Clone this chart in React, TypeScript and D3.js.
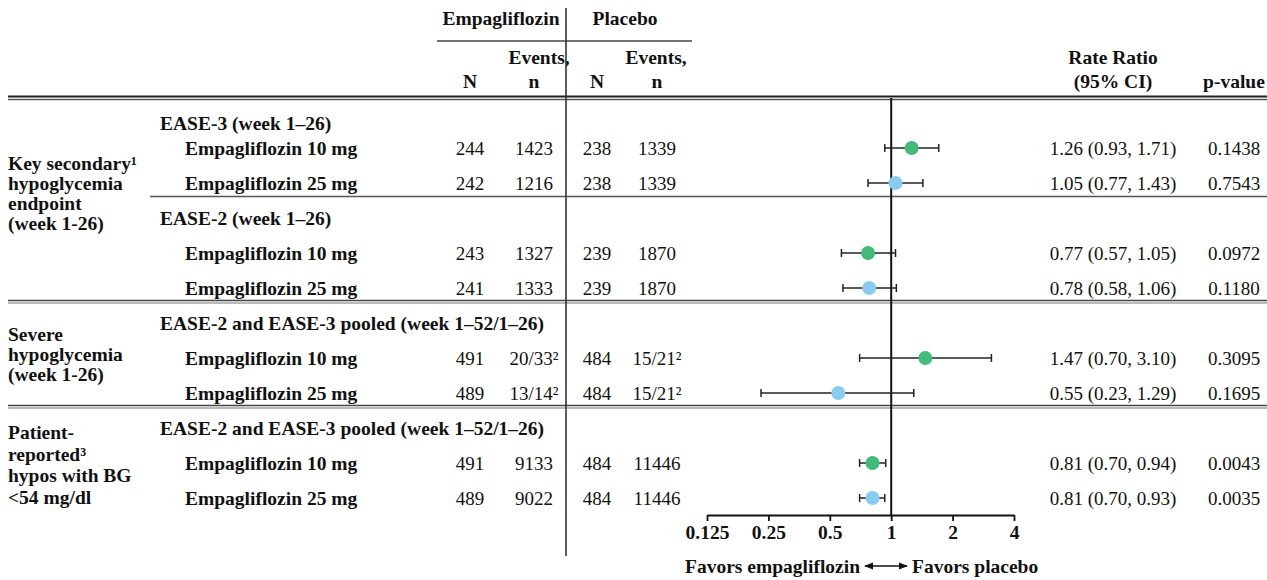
import React, { useEffect, useRef } from "react";
import * as d3 from "d3";

// ---- data ----
const groupLabels: string[][] = [
  ["Key secondary¹", "hypoglycemia", "endpoint", "(week 1-26)"],
  ["Severe", "hypoglycemia", "(week 1-26)"],
  ["Patient-", "reported³", "hypos with BG", "<54 mg/dl"],
];
const subheaders = [
  "EASE-3 (week 1–26)",
  "EASE-2 (week 1–26)",
  "EASE-2 and EASE-3 pooled (week 1–52/1–26)",
  "EASE-2 and EASE-3 pooled (week 1–52/1–26)",
];
const rowLabels = [
  "Empagliflozin 10 mg",
  "Empagliflozin 25 mg",
  "Empagliflozin 10 mg",
  "Empagliflozin 25 mg",
  "Empagliflozin 10 mg",
  "Empagliflozin 25 mg",
  "Empagliflozin 10 mg",
  "Empagliflozin 25 mg",
];
const empN = [244, 242, 243, 241, 491, 489, 491, 489];
const empEvents = ["1423", "1216", "1327", "1333", "20/33²", "13/14²", "9133", "9022"];
const plaN = [238, 238, 239, 239, 484, 484, 484, 484];
const plaEvents = ["1339", "1339", "1870", "1870", "15/21²", "15/21²", "11446", "11446"];
const rateRatio = [1.26, 1.05, 0.77, 0.78, 1.47, 0.55, 0.81, 0.81];
const ciLow = [0.93, 0.77, 0.57, 0.58, 0.7, 0.23, 0.7, 0.7];
const ciHigh = [1.71, 1.43, 1.05, 1.06, 3.1, 1.29, 0.94, 0.93];
const pValues = ["0.1438", "0.7543", "0.0972", "0.1180", "0.3095", "0.1695", "0.0043", "0.0035"];
const dose = ["10", "25", "10", "25", "10", "25", "10", "25"];
const tickValues = [0.125, 0.25, 0.5, 1, 2, 4];
const tickLabels = ["0.125", "0.25", "0.5", "1", "2", "4"];

// ---- layout ----
const W = 1267;
const H = 580;
const FONT = "'Liberation Serif', 'Times New Roman', serif";
const FSB = 19.5; // bold labels
const FSN = 19; // regular numbers
const doseColor: Record<string, string> = { "10": "#43b97a", "25": "#88ccf2" };

// slot sequence: each subheader followed by its rows
const subSlots = [0, 3, 6, 9];
const rowSlots = [1, 2, 4, 5, 7, 8, 10, 11];
const groupCenterSlot = [2.3, 6.9, 10.05];
const groupLineGap = [20, 20, 21.5];

const slotY = d3.scaleLinear().domain([0, 1, 11]).range([123, 148, 498]);
const x = d3.scaleLog().base(2).domain([0.125, 4]).range([707, 1014]);
const axisY = 515;
const captionY = 566;

const colX = {
  group: 8,
  sub: 160,
  row: 185,
  empN: 470,
  empEv: 534,
  plaN: 597,
  plaEv: 657,
  rr: 1113,
  p: 1234,
};
const dividerX = 566;

const fmtRR = (i: number) =>
  `${rateRatio[i].toFixed(2)} (${ciLow[i].toFixed(2)}, ${ciHigh[i].toFixed(2)})`;

function Axis() {
  const ref = useRef<SVGGElement>(null);
  useEffect(() => {
    if (!ref.current) return;
    const g = d3.select(ref.current);
    g.selectAll("*").remove();
    g.call(
      d3
        .axisBottom(x)
        .tickValues(tickValues)
        .tickFormat((d, i) => tickLabels[i])
        .tickSize(6)
        .tickSizeOuter(0)
    );
    g.select(".domain").attr("stroke", "#111").attr("stroke-width", 1.8);
    g.selectAll(".tick line").attr("stroke", "#111").attr("stroke-width", 1.8);
    g.selectAll(".tick text")
      .attr("fill", "#111")
      .attr("y", 10)
      .style("font-family", FONT)
      .style("font-size", `${FSB}px`)
      .style("font-weight", "bold");
  }, []);
  return <g ref={ref} transform={`translate(0,${axisY})`} />;
}

export default function App() {
  const sepY = (slot: number) => slotY(slot) - 4;
  const bold = {
    fontFamily: FONT,
    fontSize: FSB,
    fontWeight: "bold",
    fill: "#111",
  } as const;
  const plain = {
    fontFamily: FONT,
    fontSize: FSN,
    fill: "#111",
  } as const;

  return (
    <svg
      width={W}
      height={H}
      style={{ position: "absolute", left: 0, top: 0, background: "#fff" }}
    >
      {/* column headers */}
      <g style={bold}>
        <text x={501} y={18} dy="0.35em" textAnchor="middle">Empagliflozin</text>
        <text x={625} y={18} dy="0.35em" textAnchor="middle">Placebo</text>
        <text x={539} y={57} dy="0.35em" textAnchor="middle">Events,</text>
        <text x={656} y={57} dy="0.35em" textAnchor="middle">Events,</text>
        <text x={colX.empN} y={81} dy="0.35em" textAnchor="middle">N</text>
        <text x={colX.empEv} y={81} dy="0.35em" textAnchor="middle">n</text>
        <text x={colX.plaN} y={81} dy="0.35em" textAnchor="middle">N</text>
        <text x={colX.plaEv} y={81} dy="0.35em" textAnchor="middle">n</text>
        <text x={colX.rr} y={57} dy="0.35em" textAnchor="middle">Rate Ratio</text>
        <text x={colX.rr} y={81} dy="0.35em" textAnchor="middle">(95% CI)</text>
        <text x={colX.p} y={81} dy="0.35em" textAnchor="middle">p-value</text>
      </g>
      <line x1={437} x2={692} y1={41} y2={41} stroke="#444" strokeWidth={1.5} />

      {/* header rule */}
      <line x1={8} x2={W} y1={96.5} y2={96.5} stroke="#222" strokeWidth={2} />
      <line x1={8} x2={W} y1={99.5} y2={99.5} stroke="#555" strokeWidth={1.5} />

      {/* group separators */}
      <line x1={150} x2={W} y1={sepY(2.5)} y2={sepY(2.5)} stroke="#555" strokeWidth={1.6} />
      {[5.5, 8.5].map((s) => (
        <g key={s}>
          <line x1={8} x2={W} y1={sepY(s) - 1} y2={sepY(s) - 1} stroke="#444" strokeWidth={1.6} />
          <line x1={8} x2={W} y1={sepY(s) + 1.5} y2={sepY(s) + 1.5} stroke="#777" strokeWidth={1.2} />
        </g>
      ))}

      {/* vertical divider between arms */}
      <line x1={dividerX} x2={dividerX} y1={8} y2={556} stroke="#333" strokeWidth={1.6} />

      {/* group labels */}
      <g style={bold}>
        {groupLabels.map((lines, gi) => {
          const cy = slotY(groupCenterSlot[gi]);
          const gap = groupLineGap[gi];
          const top = cy - ((lines.length - 1) * gap) / 2;
          return lines.map((l, li) => (
            <text key={`${gi}-${li}`} x={colX.group} y={top + li * gap} dy="0.35em">
              {l}
            </text>
          ));
        })}
      </g>

      {/* subheaders */}
      <g style={bold}>
        {subheaders.map((s, i) => (
          <text key={i} x={colX.sub} y={slotY(subSlots[i])} dy="0.35em">
            {s}
          </text>
        ))}
      </g>

      {/* rows */}
      {rowLabels.map((label, i) => {
        const y = slotY(rowSlots[i]);
        return (
          <g key={i}>
            <text x={colX.row} y={y} dy="0.35em" style={bold}>
              {label}
            </text>
            <g style={plain} textAnchor="middle">
              <text x={colX.empN} y={y} dy="0.35em">{empN[i]}</text>
              <text x={colX.empEv} y={y} dy="0.35em">{empEvents[i]}</text>
              <text x={colX.plaN} y={y} dy="0.35em">{plaN[i]}</text>
              <text x={colX.plaEv} y={y} dy="0.35em">{plaEvents[i]}</text>
              <text x={colX.rr} y={y} dy="0.35em">{fmtRR(i)}</text>
              <text x={colX.p} y={y} dy="0.35em">{pValues[i]}</text>
            </g>
          </g>
        );
      })}

      {/* reference line at 1 */}
      <line x1={x(1)} x2={x(1)} y1={98} y2={axisY} stroke="#111" strokeWidth={2} />

      {/* confidence intervals and point estimates */}
      {rowLabels.map((_, i) => {
        const y = slotY(rowSlots[i]);
        return (
          <g key={`m${i}`}>
            <line x1={x(ciLow[i])} x2={x(ciHigh[i])} y1={y} y2={y} stroke="#222" strokeWidth={1.5} />
            <line x1={x(ciLow[i])} x2={x(ciLow[i])} y1={y - 4} y2={y + 4} stroke="#222" strokeWidth={1.5} />
            <line x1={x(ciHigh[i])} x2={x(ciHigh[i])} y1={y - 4} y2={y + 4} stroke="#222" strokeWidth={1.5} />
            <circle cx={x(rateRatio[i])} cy={y} r={7} fill={doseColor[dose[i]]} />
          </g>
        );
      })}

      <Axis />

      {/* direction caption */}
      <g style={bold}>
        <text x={860} y={captionY} dy="0.35em" textAnchor="end">Favors empagliflozin</text>
        <text x={912} y={captionY} dy="0.35em" textAnchor="start">Favors placebo</text>
      </g>
      <defs>
        <marker id="ah" viewBox="0 0 10 10" refX="9" refY="5" markerWidth="7" markerHeight="7" orient="auto-start-reverse">
          <path d="M0,1 L10,5 L0,9 z" fill="#111" />
        </marker>
      </defs>
      <line x1={865} x2={907} y1={captionY} y2={captionY} stroke="#111" strokeWidth={1.3} markerStart="url(#ah)" markerEnd="url(#ah)" />
    </svg>
  );
}
